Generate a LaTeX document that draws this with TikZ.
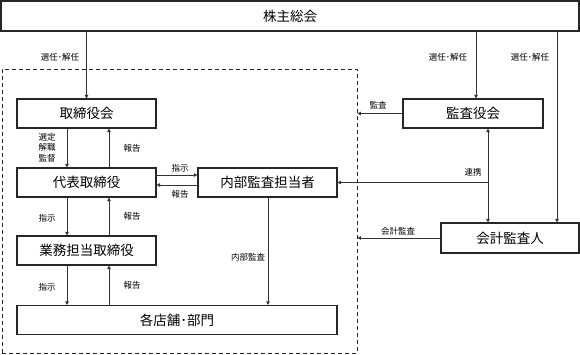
\documentclass[tikz,border=0pt]{standalone}
\usepackage{fontspec}
\setmainfont{Noto Sans CJK JP}
\usetikzlibrary{arrows.meta}
\begin{document}
\begin{tikzpicture}[x=1pt,y=-1pt,
  box/.style={draw=black!85,line width=1.1pt,inner sep=0pt,font=\fontsize{13.5}{15}\selectfont},
  lbl/.style={inner sep=0pt,font=\fontsize{8.5}{10.5}\selectfont,align=center},
  arr/.style={draw=black!80,line width=0.8pt,-{Triangle[length=3.5pt,width=3.5pt]}},
  dbl/.style={draw=black!80,line width=0.8pt,{Triangle[length=3.5pt,width=3.5pt]}-{Triangle[length=3.5pt,width=3.5pt]}},
  ln/.style={draw=black!80,line width=0.8pt}]
\useasboundingbox (0,0) rectangle (580,355);
% dashed region
\node[draw=black!85,line width=0.9pt,dash pattern=on 4pt off 3pt,minimum width=355pt,minimum height=284pt,inner sep=0pt] (db) at (179.5,211) {};
% boxes
\node[box,minimum width=578pt,minimum height=30pt] (sh) at (290,16) {株主総会};
\node[box,minimum width=139pt,minimum height=29pt] (tk) at (86.5,113.5) {取締役会};
\node[box,minimum width=139pt,minimum height=29pt] (dh) at (86.5,182.5) {代表取締役};
\node[box,minimum width=139pt,minimum height=29pt] (nb) at (267.5,182.5) {内部監査担当者};
\node[box,minimum width=139pt,minimum height=29pt] (gy) at (86.5,250.5) {業務担当取締役};
\node[box,minimum width=320pt,minimum height=29pt] (kt) at (177,320) {各店舗･部門};
\node[box,minimum width=140pt,minimum height=29pt] (ks) at (473,113.5) {監査役会};
\node[box,minimum width=138pt,minimum height=30pt] (kk) at (510,238) {会計監査人};
% coordinates
\coordinate (c1) at (86.5,31);
\coordinate (c2) at (476,31);
\coordinate (c3) at (557,31);
\coordinate (rk) at (488,182.5);
% labels
\node[lbl] (l1) at (60,57) {選任･解任};
\node[lbl] (l2) at (448,57) {選任･解任};
\node[lbl] (l3) at (530,57) {選任･解任};
\node[lbl] (l4) at (378,105) {監査};
\node[lbl] (l5) at (398,231) {会計監査};
\node[lbl] (l6) at (473,172) {連携};
\node[lbl] (l7) at (47,147.5) {選定\\解職\\監督};
\node[lbl] (l8) at (132,148) {報告};
\node[lbl] (l9) at (180,168) {指示};
\node[lbl] (l10) at (180,194) {報告};
\node[lbl] (l11) at (47,218) {指示};
\node[lbl] (l12) at (132,216) {報告};
\node[lbl] (l13) at (47,287) {指示};
\node[lbl] (l14) at (132,285) {報告};
\node[lbl] (l15) at (248,257) {内部監査};
% connectors
\draw[arr] (c1) -- (c1 |- tk.north);
\draw[arr] (c2) -- (c2 |- ks.north);
\draw[arr] (c3) -- (c3 |- kk.north);
\draw[arr] (tk.south -| 67,0) -- (dh.north -| 67,0);
\draw[arr] (dh.north -| 109,0) -- (tk.south -| 109,0);
\draw[arr] (dh.south -| 67,0) -- (gy.north -| 67,0);
\draw[arr] (gy.north -| 109,0) -- (dh.south -| 109,0);
\draw[arr] (gy.south -| 67,0) -- (kt.north -| 67,0);
\draw[arr] (kt.north -| 109,0) -- (gy.south -| 109,0);
\draw[arr] (dh.east |- 0,175) -- (nb.west |- 0,175);
\draw[arr] (nb.west |- 0,185) -- (dh.east |- 0,185);
\draw[arr] (nb.south -| 268,0) -- (kt.north -| 268,0);
\draw[arr] (ks.west) -- (ks.west -| db.east);
\draw[arr] (kk.west) -- (kk.west -| db.east);
\draw[dbl] (ks.south -| rk) -- (kk.north -| rk);
\draw[arr] (rk) -- (nb.east);
\end{tikzpicture}
\end{document}
